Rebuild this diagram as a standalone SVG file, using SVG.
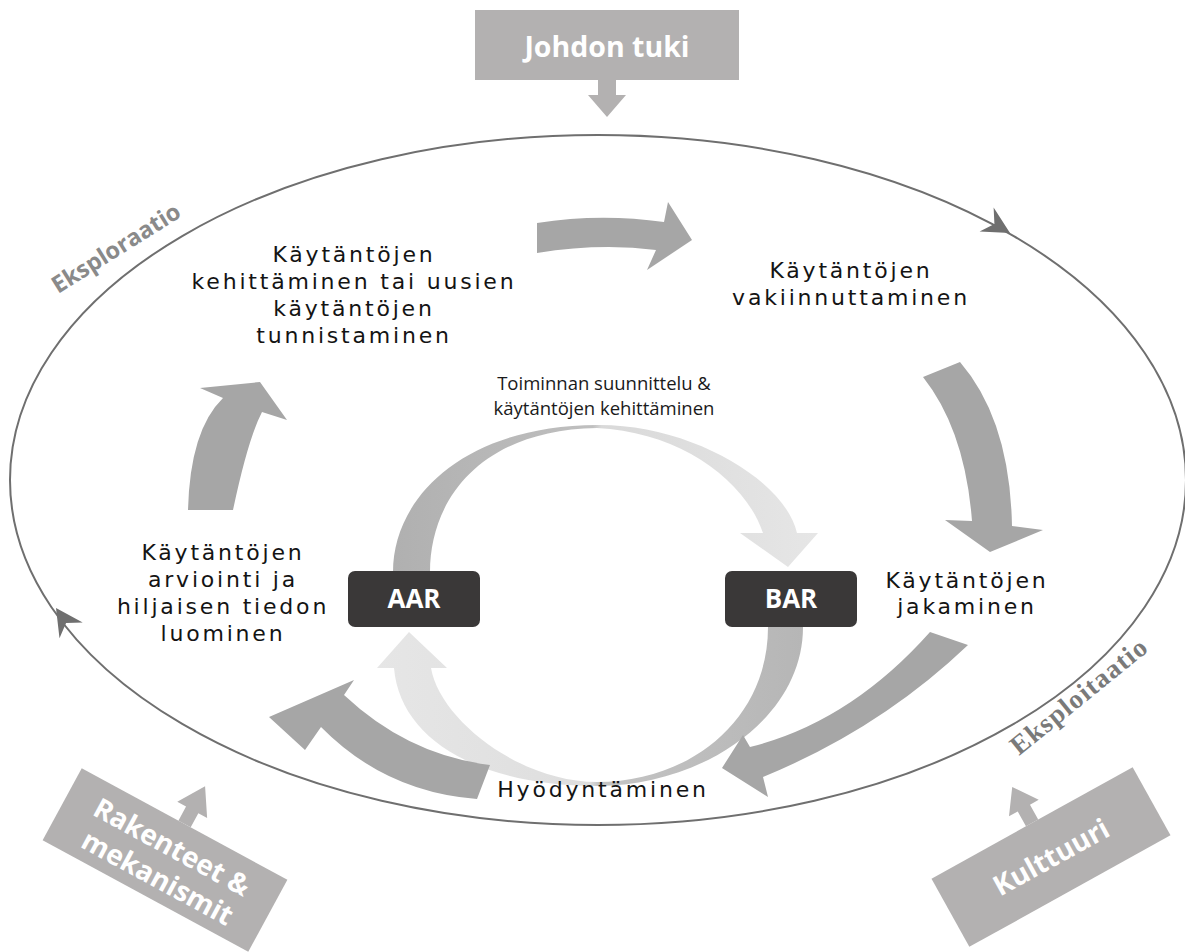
<svg xmlns="http://www.w3.org/2000/svg" xmlns:xlink="http://www.w3.org/1999/xlink" width="1185" height="952" viewBox="0 0 1185 952">
  <style>
    .lbl { font-family: "DejaVu Sans", Verdana, sans-serif; font-size: 22px; letter-spacing: 2.8px; fill: #141414; text-anchor: middle; }
    .small { font-family: "Open Sans", "Noto Sans", sans-serif; font-size: 18.5px; fill: #1a1a1a; text-anchor: middle; }
    .boxtxt { font-family: "Open Sans", "Noto Sans", sans-serif; font-weight: 700; fill: #ffffff; text-anchor: middle; }
    .factor { fill: #b3b1b1; }
    .big { fill: #a6a6a6; }
    .orbit { fill: none; stroke: #6f6f6f; stroke-width: 2; }
    .barb { fill: #6f6f6f; }
    .phase { font-family: "Open Sans", "Noto Sans", sans-serif; font-weight: 700; font-size: 23.5px; fill: #8a8a8a; }
    .phase2 { font-family: "Liberation Serif", serif; font-weight: 700; font-size: 27px; letter-spacing: 1.2px; fill: #7a7a7a; }
  </style>
  <defs>
    <path id="barbHead" d="M0,0 L-27,-14 L-18,0 L-27,14 Z"/>
    <linearGradient id="loopTop" gradientUnits="userSpaceOnUse" x1="393" y1="0" x2="818" y2="0">
      <stop offset="0" stop-color="#b0b0b0"/>
      <stop offset="0.47" stop-color="#bfbfbf"/>
      <stop offset="0.49" stop-color="#d9d9d9"/>
      <stop offset="1" stop-color="#e6e6e6"/>
    </linearGradient>
    <linearGradient id="loopBottom" gradientUnits="userSpaceOnUse" x1="377" y1="0" x2="803" y2="0">
      <stop offset="0" stop-color="#e6e6e6"/>
      <stop offset="0.5" stop-color="#dedede"/>
      <stop offset="0.52" stop-color="#c4c4c4"/>
      <stop offset="1" stop-color="#b6b6b6"/>
    </linearGradient>
  </defs>

  <!-- outer cycle: exploration / exploitation -->
  <g id="orbit">
    <ellipse class="orbit" cx="598" cy="480" rx="588" ry="345"/>
    <use xlink:href="#barbHead" class="barb" transform="translate(1010,233) rotate(30)"/>
    <use xlink:href="#barbHead" class="barb" transform="translate(56,608) rotate(-124)"/>
    <text class="phase" transform="translate(58,294) rotate(-32)">Eksploraatio</text>
    <text class="phase2" transform="translate(1019,756) rotate(-39)">Eksploitaatio</text>
  </g>

  <!-- inner AAR / BAR loop -->
  <g id="inner-loop">
    <path fill="url(#loopTop)" d="M393,572 C393,500 460,426 597,425 C690,424 785,480 797,533 L818,533 L788,567 L740,533 L763,533 C745,480 680,432 597,428 C480,430 430,500 430,572 Z"/>
    <path fill="url(#loopBottom)" d="M803,627 C803,720 700,786 597,786 C480,786 400,740 394,668 L377,668 L409,632 L447,668 L431,668 C440,720 520,782 597,782 C690,782 768,720 768,627 Z"/>
  </g>

  <!-- main process arrows -->
  <g id="connectors">
    <path class="big" d="M537,223 Q600,213 664,222 L668,202 L692,240 L647,270 L656,250 Q600,243 537,253 Z"/>
    <path class="big" d="M923,377 Q965,430 972,521 L945,520 L990,552 L1043,530 L1012,526 Q1010,420 960,362 Z"/>
    <path class="big" d="M968,645 Q880,729 763,777 L768,797 L722,768 L743,735 L750,747 Q850,722 930,632 Z"/>
    <path class="big" d="M490,765 Q408,755 344,695 L354,680 L269,717 L305,750 L321,727 Q385,792 477,799 Z"/>
    <path class="big" d="M188,510 Q190,430 223,398 L200,388 L260,382 L287,420 L262,412 Q248,439 233,510 Z"/>
  </g>

  <g id="stage-develop">
    <text class="lbl" x="354" y="262">Käytäntöjen</text>
    <text class="lbl" x="354" y="289">kehittäminen tai uusien</text>
    <text class="lbl" x="354" y="316">käytäntöjen</text>
    <text class="lbl" x="354" y="343">tunnistaminen</text>
  </g>
  <g id="stage-establish">
    <text class="lbl" x="851" y="278">Käytäntöjen</text>
    <text class="lbl" x="851" y="305">vakiinnuttaminen</text>
  </g>
  <g id="stage-share">
    <text class="lbl" x="967" y="588">Käytäntöjen</text>
    <text class="lbl" x="967" y="614">jakaminen</text>
  </g>
  <g id="stage-use">
    <text class="lbl" x="603" y="797">Hyödyntäminen</text>
  </g>
  <g id="stage-evaluate">
    <text class="lbl" x="223" y="560">Käytäntöjen</text>
    <text class="lbl" x="223" y="587">arviointi ja</text>
    <text class="lbl" x="223" y="614">hiljaisen tiedon</text>
    <text class="lbl" x="223" y="641">luominen</text>
  </g>
  <g id="planning">
    <text class="small" x="604" y="390">Toiminnan suunnittelu &amp;</text>
    <text class="small" x="604" y="415">käytäntöjen kehittäminen</text>
  </g>

  <g id="aar">
    <rect x="348" y="571" width="132" height="56" rx="7" fill="#3a3838"/>
    <text class="boxtxt" x="414" y="608" font-size="26">AAR</text>
  </g>
  <g id="bar">
    <rect x="725" y="571" width="132" height="56" rx="7" fill="#3a3838"/>
    <text class="boxtxt" x="791" y="608" font-size="26">BAR</text>
  </g>

  <!-- enabling factors -->
  <g id="johdon-tuki">
    <rect class="factor" x="475" y="10" width="264" height="70"/>
    <text class="boxtxt" x="607" y="57" font-size="28.5">Johdon tuki</text>
    <path class="factor" d="M598,80 H616 V95 H626 L607,117 L588,95 H598 Z"/>
  </g>
  <g id="rakenteet" transform="translate(165,860) rotate(28.5)">
    <rect class="factor" x="-117" y="-41" width="234" height="82"/>
    <path class="factor" d="M-7,-41 V-57 H-17 L0,-84 L17,-57 H7 V-41 Z"/>
    <text class="boxtxt" x="0" y="-5" font-size="28">Rakenteet &amp;</text>
    <text class="boxtxt" x="2" y="29" font-size="28">mekanismit</text>
  </g>
  <g id="kulttuuri" transform="translate(1051,857) rotate(-29)">
    <rect class="factor" x="-115" y="-39" width="230" height="78"/>
    <path class="factor" d="M-7,-39 V-56 H-17 L0,-80 L17,-56 H7 V-39 Z"/>
    <text class="boxtxt" x="0" y="10" font-size="28">Kulttuuri</text>
  </g>
</svg>
